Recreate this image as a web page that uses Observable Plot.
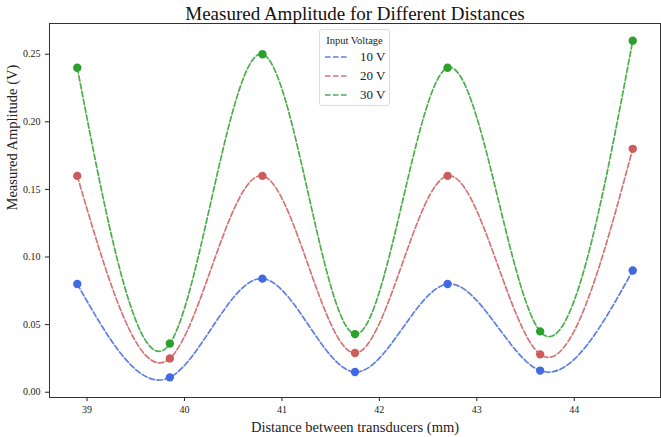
<!DOCTYPE html>
<html><head><meta charset="utf-8">
<script src="https://cdn.jsdelivr.net/npm/d3@7"></script>
<script src="https://cdn.jsdelivr.net/npm/@observablehq/plot@0.6"></script>
<style>
body{margin:0;background:#fff}
#wrap{position:relative;width:661px;height:437px;font-family:'Liberation Serif','Times New Roman',serif}
#legend{position:absolute;left:319px;top:29px;width:71px;height:77px;border:1px solid #dcdcdc;border-radius:3px;background:rgba(255,255,255,0.85);box-sizing:border-box;color:#222}
#legend .lt{font-size:10.5px;text-align:center;margin-top:4px;line-height:13px}
#legend .row{display:flex;align-items:center;height:19px;margin-left:4px}
#legend .row span{font-size:13px;margin-left:12px}
</style>
</head><body><div id="wrap"></div>
<script>
const distances = [38.9, 39.85, 40.8, 41.75, 42.7, 43.65, 44.6];
const series = ["10 V", "20 V", "30 V"];
const amp10 = [0.08, 0.011, 0.084, 0.015, 0.08, 0.016, 0.09];
const amp20 = [0.16, 0.025, 0.16, 0.029, 0.16, 0.028, 0.18];
const amp30 = [0.24, 0.036, 0.25, 0.043, 0.24, 0.045, 0.26];
const colors = ["#4169e1", "#cd5c5c", "#2ca02c"];
const xTicks = [39, 40, 41, 42, 43, 44];
const yTicks = [0, 0.05, 0.10, 0.15, 0.20, 0.25];
const titleText = "Measured Amplitude for Different Distances";
const xLabel = "Distance between transducers (mm)";
const yLabel = "Measured Amplitude (V)";
const legendTitle = "Input Voltage";

const rows = [];
[amp10, amp20, amp30].forEach((arr, i) => arr.forEach((v, j) => rows.push({series: series[i], x: distances[j], y: v})));

const plot = Plot.plot({
  width: 661, height: 437,
  marginLeft: 49, marginRight: 1, marginTop: 23, marginBottom: 40,
  style: {fontFamily: "'Liberation Serif','Times New Roman',serif", fontSize: "10px", color: "#222", background: "#fff"},
  x: {domain: [38.615, 44.885], ticks: xTicks, tickFormat: "d", label: null, tickSize: 4, tickPadding: 4},
  y: {domain: [-0.0039, 0.2727], ticks: yTicks, tickFormat: ".2f", label: null, tickSize: 4, tickPadding: 5},
  color: {domain: series, range: colors},
  marks: [
    Plot.line(rows, {x: "x", y: "y", z: "series", stroke: "series", curve: "natural", strokeWidth: 1.7, strokeDasharray: "5.5,2.5", strokeOpacity: 0.85}),
    Plot.dot(rows, {x: "x", y: "y", fill: "series", r: 4.2}),
    Plot.frame({stroke: "#333"}),
    Plot.text([titleText], {frameAnchor: "top", lineAnchor: "middle", dy: -10, fontSize: 19, text: d => d, fill: "#111"}),
    Plot.text([xLabel], {frameAnchor: "bottom", lineAnchor: "middle", dy: 30, fontSize: 14.5, text: d => d, fill: "#222"}),
    Plot.text([yLabel], {frameAnchor: "left", lineAnchor: "middle", dx: -37, rotate: -90, fontSize: 14.5, text: d => d, fill: "#222"})
  ]
});
const wrap = document.getElementById("wrap");
wrap.appendChild(plot);

const leg = document.createElement("div");
leg.id = "legend";
let html = `<div class="lt">${legendTitle}</div>`;
series.forEach((s, i) => {
  html += `<div class="row"><svg width="24" height="4"><line x1="1" x2="23" y1="2" y2="2" stroke="${colors[i]}" stroke-width="1.7" stroke-dasharray="5.5,2.5" stroke-opacity="0.85"/></svg><span>${s}</span></div>`;
});
leg.innerHTML = html;
wrap.appendChild(leg);
</script>
</body></html>
